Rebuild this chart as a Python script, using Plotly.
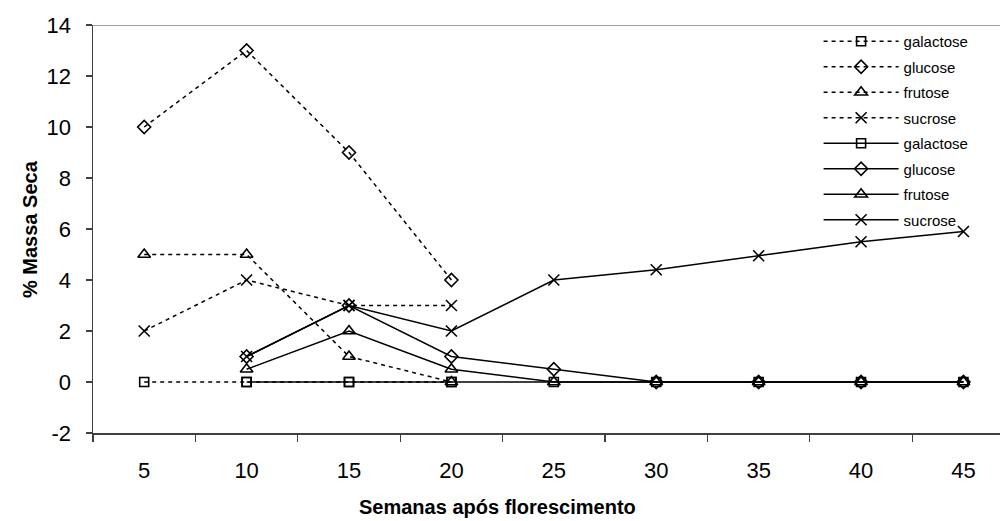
import plotly.graph_objects as go

weeks = [5, 10, 15, 20, 25, 30, 35, 40, 45]
week_labels = ["5", "10", "15", "20", "25", "30", "35", "40", "45"]
y_ticks = [-2, 0, 2, 4, 6, 8, 10, 12, 14]
y_tick_labels = ["-2", "0", "2", "4", "6", "8", "10", "12", "14"]

dashed_weeks = [5, 10, 15, 20]
galactose_dashed = [0, 0, 0, 0]
glucose_dashed = [10, 13, 9, 4]
frutose_dashed = [5, 5, 1, 0]
sucrose_dashed = [2, 4, 3, 3]

solid_weeks = [10, 15, 20, 25, 30, 35, 40, 45]
galactose_solid = [0, 0, 0, 0, 0, 0, 0, 0]
glucose_solid = [1, 3, 1, 0.5, 0, 0, 0, 0]
frutose_solid = [0.5, 2, 0.5, 0, 0, 0, 0, 0]
sucrose_solid = [1, 3, 2, 4, 4.4, 4.95, 5.5, 5.9]

names = ["galactose", "glucose", "frutose", "sucrose"]
symbols = ["square-open", "diamond-open", "triangle-up-open", "x-thin"]
sizes = [9, 10, 11, 11]

FONT = "Liberation Sans, Arial, sans-serif"

step = weeks[1] - weeks[0]
boundaries = [w - step / 2 for w in weeks] + [weeks[-1] + step / 2]

fig = go.Figure()

groups = [
    (dashed_weeks, [galactose_dashed, glucose_dashed, frutose_dashed, sucrose_dashed], "4px,4px"),
    (solid_weeks, [galactose_solid, glucose_solid, frutose_solid, sucrose_solid], "solid"),
]

k = 0
for xs, series, dash in groups:
    for name, sym, sz, ys in zip(names, symbols, sizes, series):
        fig.add_trace(go.Scatter(
            x=xs, y=ys, name=name, mode="lines+markers",
            legendgroup=f"g{k}",
            line=dict(color="black", width=1.5, dash=dash),
            marker=dict(symbol=sym, size=sz, color="black",
                        line=dict(color="black", width=1.6)),
            hoverinfo="skip",
        ))
        k += 1

fig.update_layout(
    width=1000, height=521,
    margin=dict(l=93, r=0, t=25, b=88),
    paper_bgcolor="white", plot_bgcolor="white",
    font=dict(family=FONT, color="black"),
    hovermode=False,
    showlegend=True,
    legend=dict(
        x=0.80, y=1.0, xanchor="left", yanchor="top",
        bgcolor="rgba(255,255,255,0)", borderwidth=0,
        font=dict(size=15, family=FONT),
        traceorder="grouped", tracegroupgap=3,
        itemwidth=75,
    ),
    xaxis=dict(
        range=[boundaries[0], weeks[0] + 8.357 * step], automargin=False,
        tickvals=weeks, ticktext=week_labels, ticks="",
        showgrid=False, zeroline=False, showspikes=False,
        showline=True, linecolor="#404040", linewidth=1.5,
        tickfont=dict(size=22, family=FONT),
        ticklabelstandoff=17,
        minor=dict(tickvals=boundaries, ticks="outside", ticklen=7,
                   tickcolor="#404040", tickwidth=1.2, showgrid=False),
    ),
    yaxis=dict(
        range=[-2, 14], tickvals=y_ticks, ticktext=y_tick_labels,
        automargin=False, showspikes=False,
        showgrid=False, zeroline=False,
        showline=True, linecolor="#404040", linewidth=1.5,
        ticks="outside", ticklen=6, tickcolor="#404040", tickwidth=1.2,
        tickfont=dict(size=22, family=FONT),
        ticklabelstandoff=10,
    ),
    annotations=[
        dict(
            text="<b>Semanas após florescimento</b>", xref="paper", yref="paper",
            x=(497 - 93) / 907, y=-(507 - 433) / 408, xanchor="center", yanchor="middle",
            showarrow=False, font=dict(size=20, family=FONT),
        ),
        dict(
            text="<b>% Massa Seca</b>", xref="paper", yref="paper",
            x=-(93 - 30) / 907, y=0.5, xanchor="center", yanchor="middle",
            textangle=-90, showarrow=False, font=dict(size=20, family=FONT),
        ),
    ],
    shapes=[dict(
        type="line", xref="paper", yref="y", x0=0, x1=1, y0=14, y1=14,
        line=dict(color="#808080", width=1.5),
    )],
)

fig.write_html(
    "out.html",
    config={"displayModeBar": False, "staticPlot": True},
    post_script=(
        "document.body.style.margin='0';"
        "document.body.style.overflow='hidden';"
        "document.querySelectorAll('.legend .scrollbar, .legend .scrollbox-bg').forEach(function(e){e.style.display='none';});"
    ),
)
